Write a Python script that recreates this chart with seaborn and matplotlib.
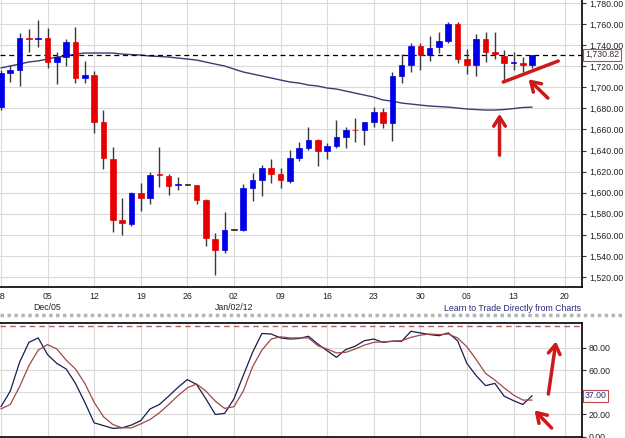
import numpy as np
import pandas as pd
import matplotlib
matplotlib.use("Agg")
import matplotlib.pyplot as plt
from matplotlib.lines import Line2D
import seaborn as sns

# daily bars, 28 Nov 2011 -> 15 Feb 2012 (one entry per trading day)
opens = [1681.2, 1714, 1716.4, 1747, 1746, 1746.7, 1724, 1728.7, 1743, 1709,
         1711.6, 1667, 1632, 1574, 1570, 1600, 1595, 1617, 1615.8, 1607,
         1607.2, 1607.2, 1593, 1556, 1545.6, 1564.5, 1564.5, 1604.4, 1612, 1623.4,
         1617.7, 1611, 1633, 1642.3, 1650, 1639.5, 1644.2, 1652.8, 1659.4, 1659.4,
         1667, 1676.5, 1666, 1710.7, 1721, 1739, 1730.6, 1738.2, 1743.9, 1760,
         1726.8, 1721, 1745.8, 1733.4, 1729.6, 1723, 1723, 1721]
highs = [1716, 1721, 1751.5, 1755, 1764, 1756, 1733, 1746, 1757, 1725,
         1715.4, 1678.4, 1643.3, 1595, 1600.6, 1609, 1619.6, 1643.3, 1617.7, 1614.8,
         1607.2, 1607.5, 1594, 1561.7, 1581.6, 1564.5, 1608.2, 1618.6, 1626.2, 1632,
         1623.4, 1640.4, 1648, 1662.3, 1650.5, 1647, 1669, 1662.3, 1670.8, 1667.5,
         1681, 1680.3, 1714.5, 1731.5, 1742, 1742, 1748.6, 1752.4, 1762, 1762,
         1736.3, 1750.5, 1752.4, 1752.4, 1735.3, 1733.4, 1728.7, 1731]
lows = [1678, 1705, 1701.2, 1733, 1738, 1718, 1703, 1720, 1704, 1704,
        1656.6, 1622.4, 1562.6, 1560, 1568, 1582.6, 1589, 1605.3, 1597.7, 1602.5,
        1607.2, 1589, 1549.4, 1522, 1542.7, 1564.5, 1563.6, 1592, 1596.8, 1609,
        1604.4, 1609, 1630, 1640.4, 1625.3, 1632, 1642.3, 1642.3, 1648, 1645.2,
        1662.3, 1661.3, 1649, 1704, 1714.5, 1716.4, 1724.9, 1732.5, 1742, 1723,
        1712.6, 1710.7, 1723.9, 1726.8, 1705, 1716.4, 1714.5, 1718.3]
closes = [1713.5, 1716, 1746.7, 1746, 1747, 1724, 1728.7, 1742.9, 1709, 1711.6,
          1667, 1633, 1574, 1571, 1600, 1595, 1616.7, 1616.5, 1606.3, 1607.2,
          1607.2, 1593, 1557, 1545.6, 1564.5, 1564.5, 1604.4, 1612, 1623.4, 1617.7,
          1612, 1633, 1642.3, 1650, 1639.5, 1644.2, 1652.8, 1659.4, 1659, 1667,
          1676.5, 1666, 1710.7, 1721, 1739, 1730.6, 1737.2, 1743.9, 1760, 1726.8,
          1721, 1745.8, 1733.4, 1731.5, 1723, 1723.2, 1721.1, 1730.82]
moving_avg = [1718.3, 1720.2, 1722, 1724, 1725, 1726.8, 1728.7, 1729.6, 1731.5, 1732.5,
              1732.5, 1732.5, 1732.5, 1731.5, 1731, 1730.6, 1729.6, 1729.2, 1728.7, 1727.7,
              1726.8, 1725.8, 1723.9, 1722, 1720.2, 1717.3, 1714.5, 1712.6, 1710.7, 1708.8,
              1706.9, 1705, 1704, 1702.1, 1701.2, 1699.3, 1698.3, 1696.4, 1694.5, 1692.6,
              1690.7, 1687.9, 1686.9, 1685, 1684.1, 1683.1, 1682.2, 1681.7, 1681.2, 1680.3,
              1679.4, 1678.9, 1678.4, 1678.4, 1678.9, 1679.8, 1680.8, 1681.2]
stoch_k = [27, 41, 67, 85, 89, 74, 66, 61, 48, 31,
           12.5, 10, 7.5, 8, 10.5, 14.5, 25, 29, 36.5, 44.5,
           51.5, 47, 34, 20, 21, 34, 55, 76, 93, 92.5,
           89, 88, 88.5, 90.5, 83.5, 77.5, 71.5, 78.5, 81.5, 86.5,
           88, 85, 86, 86, 95, 93.5, 92, 91, 93.5, 86.5,
           66, 55, 46, 48, 36.5, 32.5, 29, 37]
stoch_d = [25, 29, 45, 64, 78, 83, 79, 69, 61, 48,
           31, 18, 11, 8, 8, 11.5, 15.5, 21.5, 29, 37,
           44, 47.5, 41, 32, 25.5, 27, 41, 63, 78, 88,
           90, 89, 89, 89, 82, 79, 75.5, 76, 79, 82.5,
           85, 85.5, 86, 86.5, 89.5, 91.5, 92.5, 92, 92.5, 89,
           81, 69.5, 57, 51, 44, 37.5, 33, 33]

week_labels = ["28", "05", "12", "19", "26", "02", "09", "16", "23", "30", "06", "13", "20"]
month_labels = ["Dec/05", "Jan/02/12"]   # under the 2nd and 6th week
last_price = 1730.82
last_k = 37.0

df = pd.DataFrame({"open": opens, "high": highs, "low": lows, "close": closes,
                   "sma": moving_avg, "k": stoch_k, "d": stoch_d})
df["day"] = np.arange(len(df))

sns.set_theme(style="white")
plt.rcParams["font.family"] = ["Liberation Sans", "DejaVu Sans"]

BLUE, RED, FLAT = "#0000e8", "#e80000", "#222222"
ANN = "#cc1a1a"
fs = 6.3

fig = plt.figure(figsize=(6.25, 4.38), dpi=100)
ax = fig.add_axes([0, 0.3447, 0.9312, 0.6553])
ax2 = fig.add_axes([0, 0.003, 0.9312, 0.2597])

xmin, xmax = -0.1, 62.35
mondays = list(range(0, 60, 5)) + [60.5]

# ---- price panel ----
col = np.where(df.close > df.open, BLUE, np.where(df.close < df.open, RED, FLAT))
bottom = np.minimum(df.open, df.close)
height = np.maximum((df.close - df.open).abs(), 0.9)
ax.vlines(df.day, df.low, df.high, color="#3a3a3a", lw=1, zorder=3)
ax.bar(df.day, height, bottom=bottom, width=0.6, color=col, edgecolor=col,
       lw=0.5, zorder=4)
sns.lineplot(data=df, x="day", y="sma", ax=ax, color="#3c3c6e", lw=1, zorder=2)
ax.axhline(last_price, color="black", lw=0.9, ls=(0, (4, 3)), zorder=2)

ax.set_xlim(xmin, xmax)
ax.set_ylim(1510.5, 1782.8)
ax.set_xticks(mondays)
ax.set_xticklabels(week_labels)
ax.set_yticks(np.arange(1520, 1781, 20))
ax.set_yticklabels([f"{v:,.2f}" for v in np.arange(1520, 1781, 20)])
ax.yaxis.tick_right()
ax.tick_params(axis="y", length=3, width=0.8, color="#333333", pad=2,
               labelsize=fs, labelcolor="#222222")
ax.tick_params(axis="x", length=0, pad=3.5, labelsize=fs, labelcolor="#222222")
ax.grid(True, color="#dadada", lw=0.8)
ax.set_axisbelow(True)
ax.set_xlabel("")
ax.set_ylabel("")
for s in ["top", "left"]:
    ax.spines[s].set_visible(False)
for s in ["bottom", "right"]:
    ax.spines[s].set_color("black")
    ax.spines[s].set_linewidth(1.2)

ax.text(1.005, last_price, f"{last_price:,.2f}", transform=ax.get_yaxis_transform(),
        ha="left", va="center", fontsize=fs, color="#333333",
        bbox=dict(boxstyle="square,pad=0.18", fc="white", ec="#c04848", lw=0.8))

for lab, wk in zip(month_labels, [1, 5]):
    ax.text(mondays[wk], -0.07, lab, transform=ax.get_xaxis_transform(),
            ha="center", va="center", fontsize=fs, color="#222222")
fig.text(0.929, 0.2968, "Learn to Trade Directly from Charts", ha="right",
         va="center", fontsize=fs, color="#2b2b7a")
fig.add_artist(Line2D([0, 1], [0.2808, 0.2808], transform=fig.transFigure,
                      color="#b4b4b4", lw=2.5, ls=(0, (1, 1))))

# hand-drawn style marks
ax.plot([53.9, 59.8], [1705, 1724.9], color=ANN, lw=2.5, solid_capstyle="round", zorder=6)
arrow = dict(arrowstyle="->,head_length=0.55,head_width=0.35", color=ANN, lw=2.5)
ax.annotate("", xy=(56.4, 1709.4), xytext=(58.9, 1687.9), arrowprops=arrow, zorder=6)
ax.annotate("", xy=(53.5, 1677.5), xytext=(53.5, 1632.9), arrowprops=arrow, zorder=6)

# ---- stochastic panel ----
sns.lineplot(data=df, x="day", y="k", ax=ax2, color="#1c1c4c", lw=0.9)
sns.lineplot(data=df, x="day", y="d", ax=ax2, color="#a04848", lw=0.9)
ax2.axhline(100, color="#b06060", lw=1, ls=(0, (4, 3)))
ax2.set_xlim(xmin, xmax)
ax2.set_ylim(0, 102.5)
ax2.set_xticks(mondays)
ax2.set_xticklabels([])
ax2.set_yticks([0, 20, 40, 60, 80])
ax2.set_yticklabels(["0.00", "20.00", "", "60.00", "80.00"])
ax2.yaxis.tick_right()
ax2.tick_params(axis="y", length=3, width=0.8, color="#333333", pad=2,
                labelsize=fs, labelcolor="#222222")
ax2.tick_params(axis="x", length=0)
ax2.grid(True, color="#dadada", lw=0.8)
ax2.set_axisbelow(True)
ax2.set_xlabel("")
ax2.set_ylabel("")
ax2.spines["left"].set_visible(False)
for s in ["top", "bottom", "right"]:
    ax2.spines[s].set_color("black")
    ax2.spines[s].set_linewidth(1.2)

ax2.text(1.005, last_k, f"{last_k:.2f}", transform=ax2.get_yaxis_transform(),
         ha="left", va="center", fontsize=fs, color="#2b2b7a",
         bbox=dict(boxstyle="square,pad=0.18", fc="white", ec="#c04848", lw=0.8))

ax2.annotate("", xy=(59.6, 88.3), xytext=(58.7, 35.9), arrowprops=arrow)
ax2.annotate("", xy=(57.05, 25.5), xytext=(59.3, 6), arrowprops=arrow)

fig.savefig("out.png", dpi=100)
